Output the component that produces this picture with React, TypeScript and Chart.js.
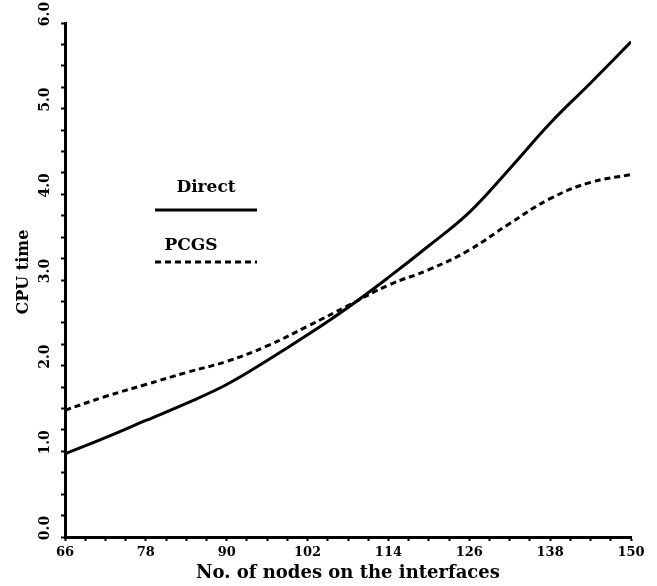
import React, { useEffect, useRef } from 'react';
import { Chart, registerables } from 'chart.js';

Chart.register(...registerables);

const xValues = [66, 72, 78, 84, 90, 96, 102, 108, 114, 120, 126, 132, 138, 144, 150];
const directCpu = [0.97, 1.16, 1.36, 1.56, 1.78, 2.06, 2.36, 2.68, 3.03, 3.40, 3.79, 4.30, 4.83, 5.30, 5.78];
const pcgsCpu = [1.48, 1.64, 1.78, 1.92, 2.05, 2.23, 2.46, 2.70, 2.94, 3.12, 3.35, 3.66, 3.95, 4.14, 4.23];
const xTickLabels = [66, 78, 90, 102, 114, 126, 138, 150];
const yTickValues = [0, 1, 2, 3, 4, 5, 6];
const seriesNames = ['Direct', 'PCGS'];
const xTitle = 'No. of nodes on the interfaces';
const yTitle = 'CPU time';

const FONT = '"DejaVu Serif", "Liberation Serif", serif';

const textPlugin = {
  id: 'customText',
  afterDraw(chart: any) {
    const ctx = chart.ctx as CanvasRenderingContext2D;
    const xs = chart.scales.x;
    const ys = chart.scales.y;
    ctx.save();
    ctx.fillStyle = '#000';
    // x tick labels
    ctx.font = `bold 13px ${FONT}`;
    ctx.textAlign = 'center';
    ctx.textBaseline = 'middle';
    xTickLabels.forEach((v) => {
      ctx.fillText(String(v), xs.getPixelForValue(v), 553);
    });
    // x title
    ctx.font = `bold 18px ${FONT}`;
    ctx.fillText(xTitle, 348, 573);
    // y tick labels (rotated)
    ctx.font = `bold 14px ${FONT}`;
    yTickValues.forEach((v) => {
      const py = ys.getPixelForValue(v) - 9;
      ctx.save();
      ctx.translate(45, py);
      ctx.rotate(-Math.PI / 2);
      ctx.fillText(v.toFixed(1), 0, 0);
      ctx.restore();
    });
    // y title
    ctx.font = `bold 16px ${FONT}`;
    ctx.save();
    ctx.translate(24, 272);
    ctx.rotate(-Math.PI / 2);
    ctx.fillText(yTitle, 0, 0);
    ctx.restore();
    // legend
    ctx.font = `bold 17px ${FONT}`;
    ctx.fillText(seriesNames[0], 206, 188);
    ctx.fillText(seriesNames[1], 191, 246);
    ctx.lineWidth = 3;
    ctx.strokeStyle = '#000';
    ctx.beginPath();
    ctx.moveTo(155, 210);
    ctx.lineTo(257, 210);
    ctx.stroke();
    ctx.setLineDash([6, 4]);
    ctx.beginPath();
    ctx.moveTo(155, 262);
    ctx.lineTo(257, 262);
    ctx.stroke();
    ctx.restore();
  },
};

export default function App() {
  const canvasRef = useRef<HTMLCanvasElement | null>(null);

  useEffect(() => {
    if (!canvasRef.current) return;
    const chart = new Chart(canvasRef.current, {
      type: 'line',
      data: {
        datasets: [
          {
            label: seriesNames[0],
            data: xValues.map((x, i) => ({ x, y: directCpu[i] })),
            borderColor: '#000',
            borderWidth: 3,
            pointRadius: 0,
            tension: 0.4,
            fill: false,
          },
          {
            label: seriesNames[1],
            data: xValues.map((x, i) => ({ x, y: pcgsCpu[i] })),
            borderColor: '#000',
            borderWidth: 3,
            borderDash: [6, 4],
            pointRadius: 0,
            tension: 0.4,
            fill: false,
          },
        ],
      },
      options: {
        animation: false,
        responsive: true,
        maintainAspectRatio: false,
        layout: { padding: { top: 23, right: 26, bottom: 0, left: 0 } },
        plugins: {
          legend: { display: false },
          tooltip: { enabled: false },
          title: { display: false },
        },
        scales: {
          x: {
            type: 'linear',
            min: 66,
            max: 150,
            ticks: {
              stepSize: 3,
              autoSkip: false,
              maxTicksLimit: 100,
              maxRotation: 0,
              callback: () => '',
            },
            grid: {
              drawOnChartArea: false,
              drawTicks: true,
              tickLength: 4,
              tickWidth: 2,
              tickColor: '#000',
            },
            border: { display: true, color: '#000', width: 3 },
            afterFit: (s: any) => {
              s.height = 49;
            },
          },
          y: {
            type: 'linear',
            min: 0,
            max: 6,
            ticks: {
              stepSize: 0.25,
              autoSkip: false,
              maxTicksLimit: 100,
              callback: () => '',
            },
            grid: {
              drawOnChartArea: false,
              drawTicks: true,
              tickLength: 4,
              tickWidth: 2,
              tickColor: '#000',
            },
            border: { display: true, color: '#000', width: 3 },
            afterFit: (s: any) => {
              s.width = 65;
            },
          },
        },
      },
      plugins: [textPlugin],
    } as any);
    return () => chart.destroy();
  }, []);

  return (
    <div style={{ position: 'fixed', left: 0, top: 0, width: 657, height: 586, background: '#fff' }}>
      <canvas ref={canvasRef} />
    </div>
  );
}
